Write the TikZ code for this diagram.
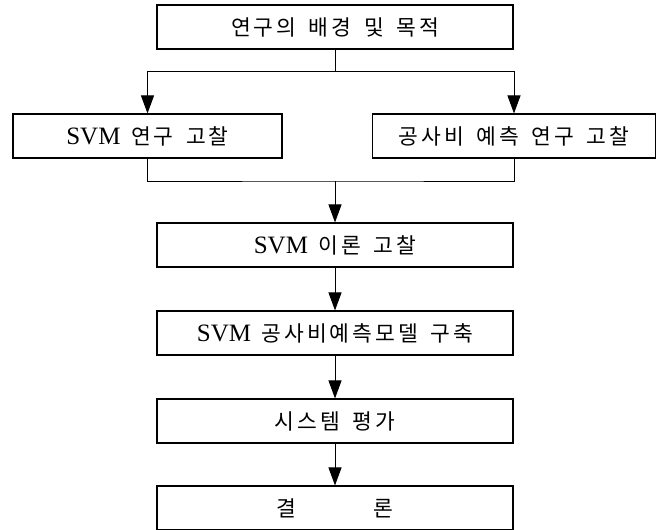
\documentclass[tikz,border=0pt]{standalone}
\usepackage{fontspec}
\setmainfont{Liberation Serif}
\newfontfamily\kr[LetterSpace=14,WordSpace=1.6]{Noto Sans CJK KR}
\newcommand\hg[1]{{\kr\fontsize{21.5}{26}\selectfont #1}}
\usetikzlibrary{arrows.meta,positioning,calc}
\tikzset{
  stepbox/.style={draw=black, line width=1.1pt, fill=white, inner sep=0pt,
    minimum width=#1, minimum height=44pt, align=center,
    font=\fontsize{25}{28}\selectfont},
  flow/.style={-{Triangle[length=18pt,width=13pt]}, line width=1pt, draw=black},
  link/.style={line width=1pt, draw=black},
}
\begin{document}
\begin{tikzpicture}[x=1pt, y=1pt]
      \useasboundingbox (0,0) rectangle (659,-530);

      %% ---- top: aim of the study ----
      \node[stepbox=356pt] (aim) at (335,-27) {\hg{연구의 배경 및 목적}};

      %% ---- two literature reviews ----
      \node[stepbox=269pt] (svmrev) at (147.5,-136) {SVM\hspace{0.42em}\hg{연구 고찰}};
      \node[stepbox=283pt] (costrev) at (514,-136) {\hg{공사비 예측 연구 고찰}};

      \coordinate (split) at (335,-71);
      \draw[link] (aim.south) -- (split);
      \draw[flow] (split) -| (svmrev.north);
      \draw[flow] (split) -| (costrev.north);

      %% ---- main chain ----
      \foreach \py/\nm/\lbl in {-245/theory/{SVM\hspace{0.42em}\hg{이론 고찰}},
                               -333/model/{SVM\hspace{0.42em}\hg{공사비예측모델 구축}},
                               -421/evalsys/{\hg{시스템 평가}},
                               -508/concl/{\hg{결\hspace{3.6em}론}}}{
        \node[stepbox=356pt] (\nm) at (335,\py) {\lbl};}

      \coordinate (join) at (335,-181);
      \draw[link] (svmrev.south) |- (join) -| (costrev.south);
      \draw[flow] (join) -- (theory.north);
      \draw[flow] (theory.south) -- (model.north);
      \draw[flow] (model.south) -- (evalsys.north);
      \draw[flow] (evalsys.south) -- (concl.north);
\end{tikzpicture}
\end{document}
